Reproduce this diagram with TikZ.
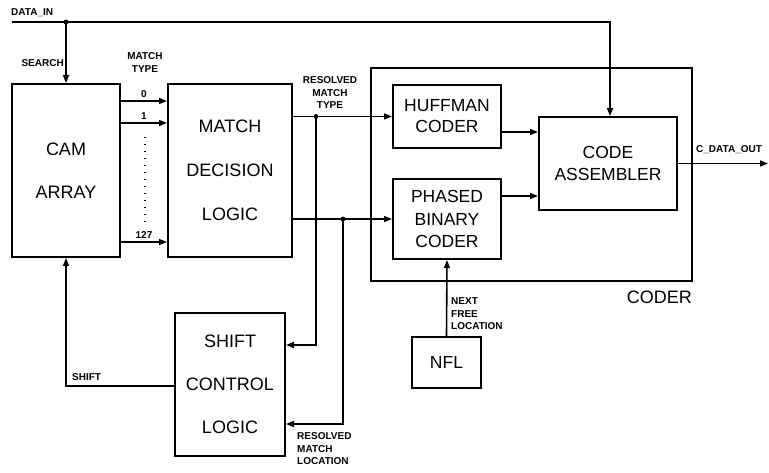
\documentclass[tikz,border=0pt]{standalone}
\usepackage{fontspec}
\setmainfont{Liberation Sans}
\usetikzlibrary{arrows.meta, positioning}

\begin{document}
\begin{tikzpicture}[x=1pt, y=-1pt,
    blk/.style={rectangle, draw, line width=2pt, align=center, inner sep=0pt},
    arr/.style={-{Triangle[length=8pt,width=6pt]}, line width=1.6pt},
    lbl/.style={font=\bfseries\fontsize{10}{12.5}\selectfont, align=center, inner sep=0pt}
]
\useasboundingbox (0,0) rectangle (769,473);

% main blocks
\node[blk, minimum width=108, minimum height=173, font=\fontsize{18}{43}\selectfont] (cam) at (66,170.5) {CAM\\ARRAY};
\node[blk, minimum width=124, minimum height=173, font=\fontsize{18}{44}\selectfont] (mdl) at (230,170.5) {MATCH\\DECISION\\LOGIC};
\node[blk, minimum width=110, minimum height=143, font=\fontsize{18}{43}\selectfont] (scl) at (230,384.5) {SHIFT\\CONTROL\\LOGIC};

% coder
\node[draw, line width=1.7pt, minimum width=321, minimum height=213] (coder) at (531.5,174.5) {};
\node[font=\fontsize{18}{20}\selectfont, anchor=east, inner sep=0pt] (coderlbl) at (692,297) {CODER};
\node[blk, minimum width=108, minimum height=63, font=\fontsize{17.5}{21}\selectfont] (huff) at (447,116.5) {HUFFMAN\\CODER};
\node[blk, minimum width=108, minimum height=80, font=\fontsize{17.5}{22.5}\selectfont] (pbc) at (447,219) {PHASED\\BINARY\\CODER};
\node[blk, minimum width=138, minimum height=93, font=\fontsize{17.5}{22}\selectfont] (asm) at (608,163.5) {CODE\\ASSEMBLER};
\node[blk, minimum width=69, minimum height=51, font=\fontsize{17.5}{20}\selectfont] (nfl) at (446.5,362.5) {NFL};

% input / search
\coordinate (din) at (12,22);
\coordinate (srch) at (cam.north |- din);
\node[lbl, anchor=west] (dinlbl) at (11,13) {DATA\_IN};
\node[lbl, anchor=east] (srchlbl) at (64,63) {SEARCH};
\draw[arr] (din) -| ([xshift=2pt]asm.north);
\fill (srch) circle (2.4pt);
\draw[arr] (srch) -- (cam.north);

% match type lines
\node[lbl] (mtlbl) at (145,62.5) {MATCH\\TYPE};
\foreach \y/\n in {101/0, 123/1, 242/127}
  \draw[arr] (cam.east |- 0,\y) -- (mdl.west |- 0,\y) node[midway, above=3pt, lbl] {\n};
\draw[line width=1.2pt, dash pattern=on 1pt off 6pt] (145,137) -- (145,223);

% resolved match type / location
\coordinate (rmt) at (316,116.5);
\coordinate (rml) at (343,219);
\node[lbl] (rmtlbl) at (330,93) {RESOLVED\\MATCH\\TYPE};
\draw[arr] (mdl.east |- huff.west) -- (huff.west);
\draw[arr] (mdl.east |- pbc.west) -- (pbc.west);
\fill (rmt) circle (2.4pt);
\fill (rml) circle (2.4pt);
\draw[arr] (rmt) |- (scl.east |- 0,345);
\draw[arr] (rml) |- (scl.east |- 0,424);
\node[lbl, anchor=west, align=left] (rmllbl) at (297,449) {RESOLVED\\MATCH\\LOCATION};

% shift feedback
\draw[arr] (scl.west |- 0,386) -| (cam.south);
\node[lbl, anchor=west] (shiftlbl) at (72,377) {SHIFT};

% next free location
\draw[arr] (nfl.north) -- (pbc.south);
\node[lbl, anchor=west, align=left] (nfllbl) at (451,314) {NEXT\\FREE\\LOCATION};

% coder internals and output
\draw[arr] (huff.east |- 0,132) -- (asm.west |- 0,132);
\draw[arr] (pbc.east |- 0,196) -- (asm.west |- 0,196);
\coordinate (dout) at (768,163.5);
\draw[arr] (asm.east) -- (dout);
\node[lbl, anchor=west] (doutlbl) at (696,150) {C\_DATA\_OUT};
\end{tikzpicture}
\end{document}
